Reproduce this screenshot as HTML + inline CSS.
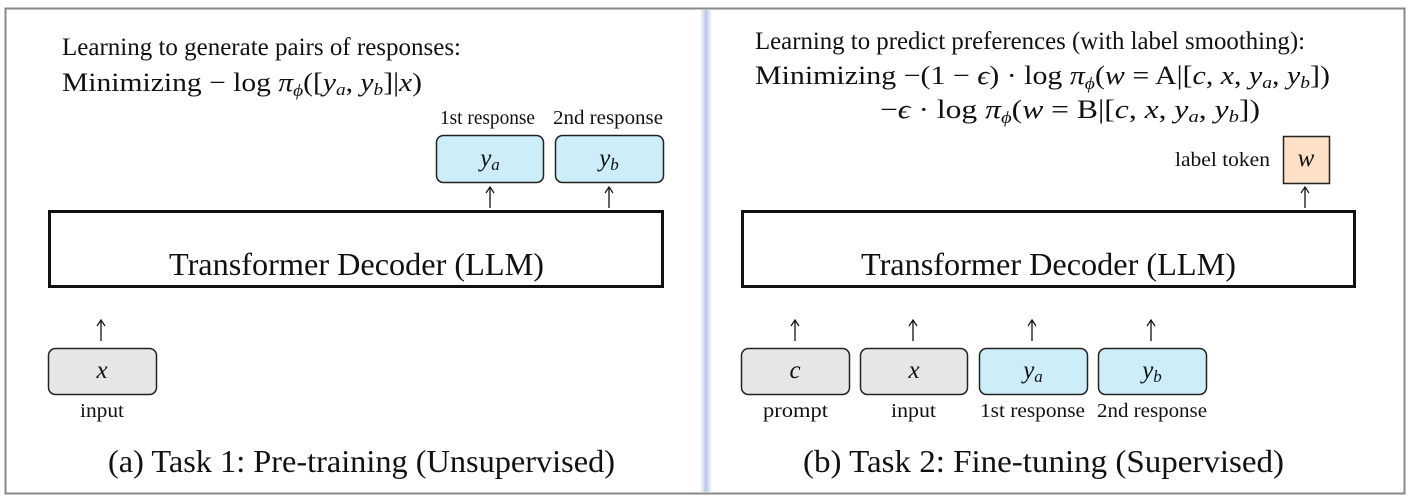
<!DOCTYPE html>
<html><head><meta charset="utf-8"><style>
html,body{margin:0;padding:0;background:#fff;}
svg{display:block;font-family:"Liberation Serif",serif;}
.m{font-style:italic;}
</style></head><body>
<svg width="1410" height="504" viewBox="0 0 1410 504">
<defs>
<linearGradient id="dv" x1="0" x2="1"><stop offset="0" stop-color="#fff"/><stop offset="0.5" stop-color="#b8c8ea"/><stop offset="1" stop-color="#fff"/></linearGradient>
<g id="arr"><line x1="0" y1="1" x2="0" y2="21" stroke="#111" stroke-width="1.3"/><path d="M-4,6 L0,0 L4,6" fill="none" stroke="#111" stroke-width="1.2"/></g>
</defs>
<rect x="5.5" y="8.5" width="1399" height="485" fill="#fff" stroke="#888" stroke-width="2"/>
<rect x="700" y="10" width="12" height="482" fill="url(#dv)"/>
<g font-size="25" fill="#111">
<text x="62" y="55" textLength="399" lengthAdjust="spacingAndGlyphs">Learning to generate pairs of responses:</text>
<text x="62" y="91" font-size="26" textLength="360" lengthAdjust="spacingAndGlyphs">Minimizing − log <tspan class="m">π</tspan><tspan class="m" font-size="17" dy="5">ϕ</tspan><tspan dy="-5">([</tspan><tspan class="m">y</tspan><tspan class="m" font-size="17" dy="4">a</tspan><tspan dy="-4">, </tspan><tspan class="m">y</tspan><tspan class="m" font-size="17" dy="4">b</tspan><tspan dy="-4">]|</tspan><tspan class="m">x</tspan>)</text>
<text x="440" y="124" font-size="20" textLength="95" lengthAdjust="spacingAndGlyphs">1st response</text>
<text x="553" y="124" font-size="20" textLength="110" lengthAdjust="spacingAndGlyphs">2nd response</text>
<rect x="436.5" y="135.5" width="107" height="47" rx="7" fill="#cdeef9" stroke="#222" stroke-width="1.5"/>
<text x="490" y="166" text-anchor="middle" class="m">y<tspan font-size="17" dy="4">a</tspan></text>
<rect x="555.5" y="135.5" width="108" height="47" rx="7" fill="#cdeef9" stroke="#222" stroke-width="1.5"/>
<text x="609" y="166" text-anchor="middle" class="m">y<tspan font-size="17" dy="4">b</tspan></text>
<use href="#arr" x="490" y="187"/><use href="#arr" x="609" y="187"/>
<rect x="49.5" y="211.5" width="613" height="75" fill="#fff" stroke="#111" stroke-width="3"/>
<text x="169" y="275" font-size="32" textLength="375" lengthAdjust="spacingAndGlyphs">Transformer Decoder (LLM)</text>
<use href="#arr" x="101" y="320"/>
<rect x="48.5" y="348.5" width="108" height="46" rx="7" fill="#e6e6e6" stroke="#222" stroke-width="1.5"/>
<text x="102" y="378" text-anchor="middle" class="m">x</text>
<text x="80" y="417" font-size="20" textLength="44" lengthAdjust="spacingAndGlyphs">input</text>
<text x="108" y="472" font-size="32" textLength="507" lengthAdjust="spacingAndGlyphs">(a) Task 1: Pre-training (Unsupervised)</text>
</g>
<g font-size="25" fill="#111">
<text x="755" y="49" textLength="550" lengthAdjust="spacingAndGlyphs">Learning to predict preferences (with label smoothing):</text>
<text x="755" y="84" font-size="26" textLength="575" lengthAdjust="spacingAndGlyphs">Minimizing −(1 − <tspan class="m">ϵ</tspan>) · log <tspan class="m">π</tspan><tspan class="m" font-size="17" dy="5">ϕ</tspan><tspan dy="-5">(</tspan><tspan class="m">w</tspan> = A|[<tspan class="m">c</tspan>, <tspan class="m">x</tspan>, <tspan class="m">y</tspan><tspan class="m" font-size="17" dy="4">a</tspan><tspan dy="-4">, </tspan><tspan class="m">y</tspan><tspan class="m" font-size="17" dy="4">b</tspan><tspan dy="-4">])</tspan></text>
<text x="880" y="118" font-size="26" textLength="380" lengthAdjust="spacingAndGlyphs">−<tspan class="m">ϵ</tspan> · log <tspan class="m">π</tspan><tspan class="m" font-size="17" dy="5">ϕ</tspan><tspan dy="-5">(</tspan><tspan class="m">w</tspan> = B|[<tspan class="m">c</tspan>, <tspan class="m">x</tspan>, <tspan class="m">y</tspan><tspan class="m" font-size="17" dy="4">a</tspan><tspan dy="-4">, </tspan><tspan class="m">y</tspan><tspan class="m" font-size="17" dy="4">b</tspan><tspan dy="-4">])</tspan></text>
<text x="1175" y="166" font-size="20" textLength="95" lengthAdjust="spacingAndGlyphs">label token</text>
<rect x="1283.5" y="136.5" width="46" height="47" fill="#fde0c5" stroke="#222" stroke-width="1.5"/>
<text x="1306" y="166" text-anchor="middle" class="m">w</text>
<use href="#arr" x="1305" y="187"/>
<rect x="742.5" y="211.5" width="612" height="75" fill="#fff" stroke="#111" stroke-width="3"/>
<text x="861" y="275" font-size="32" textLength="375" lengthAdjust="spacingAndGlyphs">Transformer Decoder (LLM)</text>
<use href="#arr" x="795" y="320"/><use href="#arr" x="913" y="320"/><use href="#arr" x="1032" y="320"/><use href="#arr" x="1151" y="320"/>
<rect x="741.5" y="348.5" width="108" height="46" rx="7" fill="#e6e6e6" stroke="#222" stroke-width="1.5"/>
<text x="795" y="378" text-anchor="middle" class="m">c</text>
<rect x="860.5" y="348.5" width="107" height="46" rx="7" fill="#e6e6e6" stroke="#222" stroke-width="1.5"/>
<text x="914" y="378" text-anchor="middle" class="m">x</text>
<rect x="979.5" y="348.5" width="108" height="46" rx="7" fill="#cdeef9" stroke="#222" stroke-width="1.5"/>
<text x="1033" y="378" text-anchor="middle" class="m">y<tspan font-size="17" dy="4">a</tspan></text>
<rect x="1098.5" y="348.5" width="108" height="46" rx="7" fill="#cdeef9" stroke="#222" stroke-width="1.5"/>
<text x="1152" y="378" text-anchor="middle" class="m">y<tspan font-size="17" dy="4">b</tspan></text>
<g font-size="20">
<text x="763" y="417" textLength="65" lengthAdjust="spacingAndGlyphs">prompt</text>
<text x="891" y="417" textLength="45" lengthAdjust="spacingAndGlyphs">input</text>
<text x="980" y="417" textLength="105" lengthAdjust="spacingAndGlyphs">1st response</text>
<text x="1097" y="417" textLength="110" lengthAdjust="spacingAndGlyphs">2nd response</text></g>
<text x="803" y="472" font-size="32" textLength="481" lengthAdjust="spacingAndGlyphs">(b) Task 2: Fine-tuning (Supervised)</text>
</g>
</svg>
</body></html>
